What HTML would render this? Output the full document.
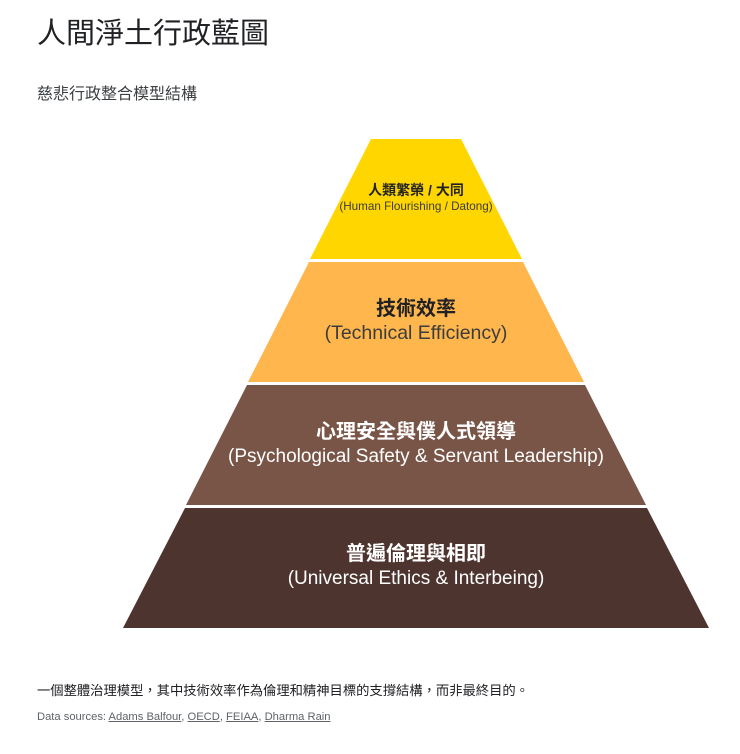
<!DOCTYPE html>
<html><head><meta charset="utf-8"><style>
body{margin:0;width:740px;height:754px;background:#fff;font-family:"Liberation Sans","Noto Sans CJK TC",sans-serif;position:relative;overflow:hidden}
.t{position:absolute;left:37px;top:10px;font-size:29px;color:#202124}
.s{position:absolute;left:37px;top:80px;font-size:16px;color:#3c4043}
.f{position:absolute;left:37px;top:680px;font-size:13.3px;color:#202124}
.d{position:absolute;left:37px;top:711px;font-size:11.2px;color:#5f6368}
.d u{text-decoration:underline}
svg{position:absolute;left:0;top:0}
</style></head><body>
<div class="t">人間淨土行政藍圖</div>
<div class="s">慈悲行政整合模型結構</div>
<svg width="740" height="754" font-family="Liberation Sans, Noto Sans CJK TC, sans-serif">
<polygon points="371,139 461,139 522,259 310,259" fill="#FFD600"/>
<polygon points="309,262 523,262 584,382 248,382" fill="#FFB74D"/>
<polygon points="247,385 585,385 646,505 186,505" fill="#795548"/>
<polygon points="185,508 647,508 709,628 123,628" fill="#4E342E"/>
<text x="416" y="195" text-anchor="middle" font-size="14" font-weight="bold" fill="#202124">人類繁榮 / 大同</text>
<text x="416" y="210" text-anchor="middle" font-size="11.7" fill="#3c3c3c">(Human Flourishing / Datong)</text>
<text x="416" y="315" text-anchor="middle" font-size="20" font-weight="bold" fill="#202124">技術效率</text>
<text x="416" y="339" text-anchor="middle" font-size="19.5" fill="#3c3c3c">(Technical Efficiency)</text>
<text x="416" y="438" text-anchor="middle" font-size="20" font-weight="bold" fill="#fff">心理安全與僕人式領導</text>
<text x="416" y="462" text-anchor="middle" font-size="19" fill="#fff">(Psychological Safety &amp; Servant Leadership)</text>
<text x="416" y="560" text-anchor="middle" font-size="20" font-weight="bold" fill="#fff">普遍倫理與相即</text>
<text x="416" y="584" text-anchor="middle" font-size="19" fill="#fff">(Universal Ethics &amp; Interbeing)</text>
</svg>
<div class="f">一個整體治理模型，其中技術效率作為倫理和精神目標的支撐結構，而非最終目的。</div>
<div class="d">Data sources: <u>Adams Balfour</u>, <u>OECD</u>, <u>FEIAA</u>, <u>Dharma Rain</u></div>
</body></html>
